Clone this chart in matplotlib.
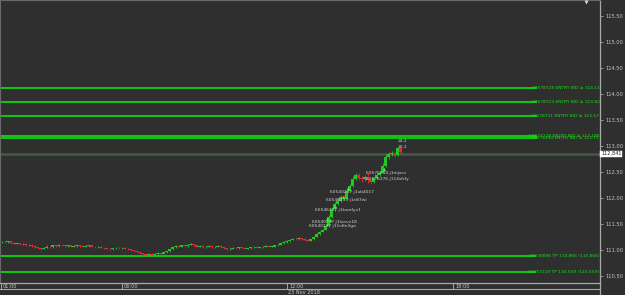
import matplotlib
matplotlib.use("Agg")
import matplotlib.pyplot as plt
from matplotlib.lines import Line2D
import numpy as np

# ---------------- data ----------------
closes = [111.15, 111.14, 111.16, 111.13, 111.11, 111.12, 111.10, 111.11, 111.08, 111.09,
          111.07, 111.05, 111.03, 111.02, 111.04, 111.06, 111.05, 111.08, 111.07, 111.09,
          111.08, 111.07, 111.08, 111.06, 111.07, 111.08, 111.07, 111.06, 111.07, 111.08,
          111.06, 111.05, 111.06, 111.04, 111.03, 111.02, 111.01, 111.03, 111.04, 111.03,
          111.04, 111.02, 111.01, 110.99, 110.98, 110.96, 110.93, 110.91, 110.90, 110.92,
          110.89, 110.91, 110.93, 110.92, 110.95, 110.97, 111.01, 111.05, 111.07, 111.06,
          111.08, 111.07, 111.09, 111.10, 111.08, 111.06, 111.07, 111.05, 111.06, 111.07,
          111.05, 111.06, 111.07, 111.05, 111.03, 111.01, 111.02, 111.04, 111.03, 111.05,
          111.04, 111.02, 111.03, 111.05, 111.06, 111.04, 111.05, 111.06, 111.07, 111.06,
          111.06, 111.08, 111.09, 111.12, 111.14, 111.16, 111.19, 111.21, 111.20, 111.22,
          111.21, 111.19, 111.17, 111.20, 111.25, 111.30, 111.34, 111.38, 111.45, 111.62,
          111.78, 111.87, 111.94, 112.01, 111.98, 112.12, 112.22, 112.36, 112.44, 112.38,
          112.35, 112.39, 112.33, 112.30, 112.37, 112.44, 112.48, 112.61, 112.78, 112.84,
          112.86, 112.82, 112.95, 112.88]
first_open = 111.14
highs = [111.17, 111.16, 111.17, 111.17, 111.14, 111.13, 111.13, 111.12, 111.12, 111.10,
         111.10, 111.08, 111.06, 111.04, 111.05, 111.08, 111.07, 111.09, 111.09, 111.10,
         111.10, 111.09, 111.09, 111.09, 111.08, 111.09, 111.09, 111.08, 111.08, 111.09,
         111.09, 111.07, 111.07, 111.07, 111.05, 111.04, 111.03, 111.04, 111.05, 111.05,
         111.05, 111.05, 111.03, 111.02, 111.00, 110.99, 110.97, 110.94, 110.92, 110.94,
         110.93, 110.93, 110.95, 110.94, 110.96, 110.98, 111.02, 111.06, 111.09, 111.08,
         111.09, 111.09, 111.10, 111.12, 111.11, 111.09, 111.08, 111.08, 111.07, 111.08,
         111.08, 111.07, 111.08, 111.08, 111.06, 111.04, 111.03, 111.05, 111.05, 111.06,
         111.06, 111.05, 111.04, 111.06, 111.07, 111.07, 111.06, 111.07, 111.08, 111.08,
         111.07, 111.09, 111.10, 111.13, 111.16, 111.18, 111.21, 111.23, 111.22, 111.24,
         111.23, 111.22, 111.20, 111.21, 111.27, 111.32, 111.36, 111.40, 111.49, 111.66,
         111.82, 111.92, 111.99, 112.05, 112.06, 112.16, 112.27, 112.42, 112.48, 112.47,
         112.42, 112.43, 112.41, 112.36, 112.40, 112.47, 112.52, 112.66, 112.84, 112.87,
         112.89, 112.88, 112.98, 112.97]
lows = [111.13, 111.13, 111.13, 111.12, 111.10, 111.10, 111.09, 111.09, 111.07, 111.07,
        111.06, 111.04, 111.01, 111.00, 111.01, 111.03, 111.04, 111.04, 111.06, 111.06,
        111.07, 111.06, 111.06, 111.05, 111.05, 111.06, 111.06, 111.05, 111.05, 111.06,
        111.05, 111.04, 111.04, 111.03, 111.02, 111.01, 111.00, 111.00, 111.02, 111.02,
        111.02, 111.01, 111.00, 110.98, 110.97, 110.95, 110.92, 110.90, 110.88, 110.89,
        110.88, 110.88, 110.90, 110.90, 110.91, 110.94, 110.96, 111.00, 111.04, 111.05,
        111.05, 111.06, 111.06, 111.08, 111.07, 111.05, 111.05, 111.04, 111.04, 111.05,
        111.04, 111.04, 111.05, 111.04, 111.02, 111.00, 111.00, 111.01, 111.02, 111.02,
        111.03, 111.01, 111.01, 111.02, 111.04, 111.03, 111.03, 111.04, 111.05, 111.05,
        111.05, 111.05, 111.07, 111.08, 111.11, 111.13, 111.15, 111.18, 111.19, 111.19,
        111.19, 111.17, 111.16, 111.16, 111.19, 111.24, 111.29, 111.33, 111.37, 111.43,
        111.60, 111.75, 111.85, 111.92, 111.95, 111.96, 112.10, 112.20, 112.33, 112.34,
        112.31, 112.32, 112.29, 112.27, 112.28, 112.35, 112.42, 112.47, 112.59, 112.75,
        112.81, 112.79, 112.80, 112.84]

order_prices = [114.103, 113.833, 113.564, 113.186, 113.155]
order_labels = ["60578728 ENTRY BID \u2265 114.11", "60578723 ENTRY BID \u2265 113.82",
                "60578711 ENTRY BID \u2265 113.57", "60574118 ENTRY BID \u2265 113.186",
                "60574494 ENTRY BID \u2265 113.15"]
tp_prices = [110.872, 110.564]
tp_labels = ["20036896 TP 110.866 (110.866)", "20057219 TP 110.559 (110.559)"]
current_price = 112.841

trade_texts = ["60540237 j1lvnvx18", "60540237 j11n8n3ga", "60546237 j1kwnfyx1",
               "60546237 j1n87wi", "60540237 j1ub4017", "60576634 j1mjxcz",
               "60576276 j114sfrfy", "24.2", "20.2"]
trade_text_x = [103.5, 102.5, 104.5, 108.2, 109.5, 121.5, 121.5, 132.2, 132.2]
trade_text_y = [111.53, 111.45, 111.77, 111.95, 112.11, 112.47, 112.36, 113.09, 112.975]
buy_x = [108.5, 109.5, 111.2, 113.8, 115.5, 127.5]
buy_y = [111.59, 111.57, 111.84, 112.01, 112.19, 112.55]
sell_x = [132.8, 122.2]
sell_y = [112.90, 112.45]

y_ticks = [110.5, 111.0, 111.5, 112.0, 112.5, 113.0, 113.5, 114.0, 114.5, 115.0, 115.5]
time_labels = ["01:00", "06:00", "12:00", "18:00"]
time_pos = [-0.17, 40.0, 95.2, 150.5]
date_label = "23 Nov 2018"

# ---------------- style ----------------
BG = "#2f2f2f"
UP = "#22c822"
DN = "#e0283a"
LINE_G = "#10c810"
TXT_G = "#18e018"
AX = "#a8a8a8"

W, H = 625, 295
fig = plt.figure(figsize=(W / 100, H / 100), dpi=100, facecolor=BG)
ax = fig.add_axes([0, 12 / H, 600 / W, 283 / H])
ax.set_facecolor(BG)
ax.set_xlim(-0.5, 199.5)
ax.set_ylim(110.359, 115.80)

# candles
n = len(closes)
opens = [first_open] + closes[:-1]
for i in range(n):
    o, c = opens[i], closes[i]
    col = UP if c >= o else DN
    ax.vlines(i, lows[i], highs[i], color=col, lw=0.6, zorder=3)
    lo, hi = min(o, c), max(o, c)
    if hi - lo < 0.008:
        hi = lo + 0.008
    ax.add_patch(plt.Rectangle((i - 0.35, lo), 0.7, hi - lo, color=col, lw=0, zorder=4))

# order lines
for p, lab in zip(order_prices, order_labels):
    ax.plot([-0.5, 178.5], [p, p], color=LINE_G, lw=1.4, zorder=2, solid_capstyle="butt")
    ax.text(199.3, p, lab, color=TXT_G, fontsize=3.2, ha="right", va="center", zorder=5)
for p, lab in zip(tp_prices, tp_labels):
    ax.plot([-0.5, 178.0], [p, p], color=LINE_G, lw=1.4, zorder=2, solid_capstyle="butt")
    ax.text(199.3, p, lab, color=TXT_G, fontsize=3.2, ha="right", va="center", zorder=5)

# current price line
ax.axhline(current_price, color="#435a43", lw=1.8, zorder=1)

# trades
for t, x, y in zip(trade_texts, trade_text_x, trade_text_y):
    ax.text(x, y, t, color="#d0d0d0", fontsize=3.2, ha="left", va="center", zorder=6)
ax.scatter(buy_x, buy_y, marker="^", s=6, color="#20ff20", zorder=7, linewidths=0)
ax.scatter(sell_x, sell_y, marker="v", s=6, color="#ff2020", zorder=7, linewidths=0)
ax.scatter([194.8], [115.77], marker="v", s=8, color="#e0e0e0", zorder=7, linewidths=0)

# spines / axes
for s in ["top", "left"]:
    ax.spines[s].set_color("#6a6a6a")
    ax.spines[s].set_linewidth(0.8)
for s in ["bottom", "right"]:
    ax.spines[s].set_color(AX)
    ax.spines[s].set_linewidth(0.9)

ax.yaxis.tick_right()
ax.set_yticks(y_ticks)
ax.set_yticklabels([f"{v:.2f}" for v in y_ticks])
ax.tick_params(axis="y", colors=AX, labelcolor="#c8c8c8", labelsize=3.7,
               length=2.5, width=0.6, pad=1.5, direction="out")
ax.set_xticks([])

# current price tag
ax.text(1.002, current_price, "112.841", transform=ax.get_yaxis_transform(),
        fontsize=3.6, color="#202020", ha="left", va="center", zorder=8,
        bbox=dict(boxstyle="square,pad=0.15", fc="white", ec="white", lw=0.3),
        clip_on=False)

# bottom time scale
y_axis_bottom = 12 / H
y_line2 = (H - 289.3) / H
fig.add_artist(Line2D([0, 600 / W], [y_line2, y_line2], color=AX, lw=0.8))
fig.add_artist(Line2D([600 / W, 600 / W], [0, y_axis_bottom], color=AX, lw=0.9))
for tp, tl in zip(time_pos, time_labels):
    px = (tp + 0.5) * 3.0
    xf = max(px, 1.0) / W
    fig.add_artist(Line2D([xf, xf], [y_line2, y_axis_bottom], color=AX, lw=0.7))
    fig.text(xf + 2 / W, (H - 286.5) / H, tl, color="#c8c8c8", fontsize=3.6,
             ha="left", va="center")
fig.text(288 / W, (H - 292.3) / H, date_label, color="#c8c8c8", fontsize=3.6,
         ha="left", va="center")

fig.savefig("out.png", dpi=100, facecolor=BG)
